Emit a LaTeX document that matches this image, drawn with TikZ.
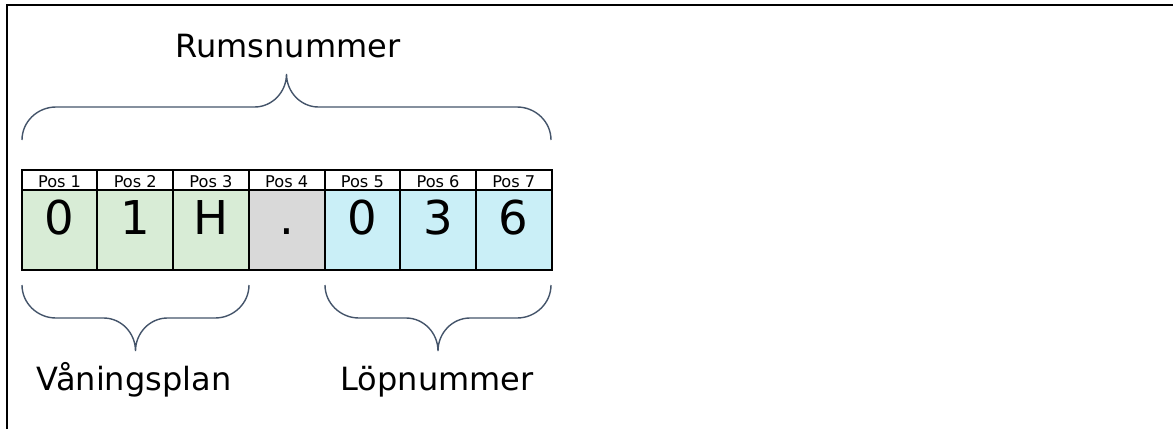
\documentclass[tikz,border=0pt]{standalone}
\usepackage{fontspec}
\setmainfont{DejaVu Sans}
\usetikzlibrary{positioning}
\definecolor{floorgreen}{RGB}{216,236,214}
\definecolor{dotgrey}{RGB}{217,217,217}
\definecolor{runblue}{RGB}{202,239,247}
\definecolor{bracegrey}{RGB}{68,84,106}
\tikzset{
    posbox/.style={
        draw,
        line width=1pt,
        inner sep=0pt,
        outer sep=0pt,
        minimum width=37.85pt,
        text height=8.85pt,
        text depth=0.9pt,
        font=\fontsize{8.1}{9}\selectfont
    },
    digitbox/.style={
        posbox,
        text height=22.5pt,
        text depth=17.5pt,
        font=\fontsize{23.3}{26}\selectfont
    },
    namelabel/.style={
        inner sep=0pt,
        anchor=base,
        font=\fontsize{16}{19}\selectfont
    },
    braceline/.style={
        draw=bracegrey,
        line width=0.7pt
    },
    frameline/.style={
        draw=black,
        line width=1pt
    }
}
% curly brace: left x, right x, y of the ends, step towards the tip
\newcommand{\curlybrace}[4]{%
    \draw[braceline]
        ({#1},{#3})
        .. controls ({#1},{#3+0.55*(#4)}) and ({#1+15.3},{#3+(#4)}) .. ({#1+34},{#3+(#4)})
        -- ({(#1+#2)/2-32},{#3+(#4)})
        .. controls ({(#1+#2)/2-14.4},{#3+(#4)}) and ({(#1+#2)/2},{#3+1.45*(#4)}) .. ({(#1+#2)/2},{#3+2*(#4)})
        .. controls ({(#1+#2)/2},{#3+1.45*(#4)}) and ({(#1+#2)/2+14.4},{#3+(#4)}) .. ({(#1+#2)/2+32},{#3+(#4)})
        -- ({#2-34},{#3+(#4)})
        .. controls ({#2-15.3},{#3+(#4)}) and ({#2},{#3+0.55*(#4)}) .. ({#2},{#3});
}

\begin{document}
\begin{tikzpicture}[x=0.5pt, y=-0.5pt]
    \useasboundingbox (0,0) rectangle (1173,429);
    \draw[frameline] (7,429) -- (7,5) -- (1173,5);

    % the seven positions
    \foreach \i/\d/\f in {1/0/floorgreen,2/1/floorgreen,3/H/floorgreen,4/./dotgrey,5/0/runblue,6/3/runblue,7/6/runblue}{
        \node[posbox] (pos\i) at ({21.7+(\i-0.5)*75.7},179.75) {Pos \i};
        \node[digitbox, fill=\f, below=0pt of pos\i] (cell\i) {\d};
    }

    \node[namelabel] (room) at (288,57) {Rumsnummer};
    \node[namelabel] (floor) at (134,390) {Våningsplan};
    \node[namelabel] (serial) at (437,390) {Löpnummer};

    \curlybrace{22}{551}{140}{-33}
    \curlybrace{22}{249}{285}{33}
    \curlybrace{325}{551}{285}{33}
\end{tikzpicture}
\end{document}
